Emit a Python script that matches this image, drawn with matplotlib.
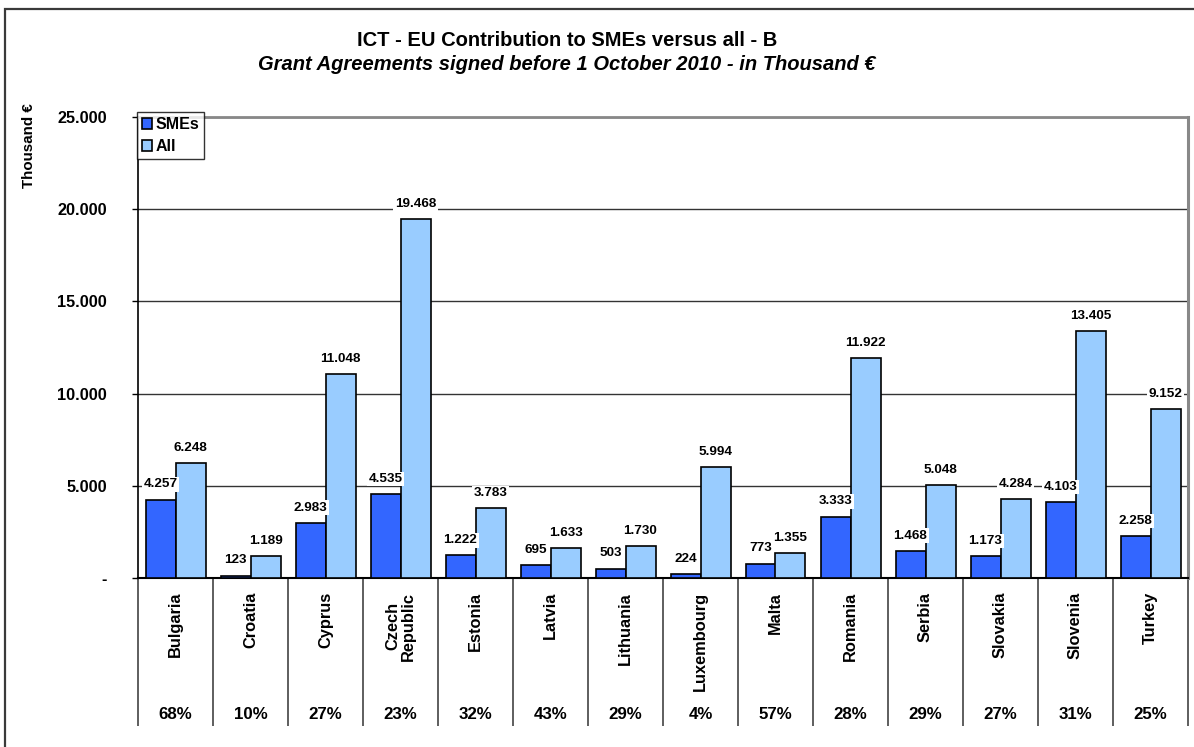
import matplotlib.pyplot as plt
from matplotlib.patches import Rectangle
from matplotlib.ticker import FuncFormatter, FixedLocator
import matplotlib.transforms as mtransforms

plt.rcParams['font.family'] = ['Liberation Sans', 'DejaVu Sans']
plt.rcParams['font.weight'] = 'bold'

countries = ["Bulgaria", "Croatia", "Cyprus", "Czech\nRepublic", "Estonia", "Latvia",
             "Lithuania", "Luxembourg", "Malta", "Romania", "Serbia", "Slovakia",
             "Slovenia", "Turkey"]
smes = [4257, 123, 2983, 4535, 1222, 695, 503, 224, 773, 3333, 1468, 1173, 4103, 2258]
all_ = [6248, 1189, 11048, 19468, 3783, 1633, 1730, 5994, 1355, 11922, 5048, 4284, 13405, 9152]


def fmt_k(v, pos=None):
    if v == 0:
        return "-"
    return f"{int(round(v)):,}".replace(",", ".")


fig = plt.figure(figsize=(11.94, 7.47), dpi=100)
ax = fig.add_axes([138 / 1194, 1 - 578 / 747, 1050 / 1194, 461 / 747])

# outer chart frame
fig.patches.append(Rectangle((5 / 1194, -0.1), 1.2, 1.1 - 9 / 747, transform=fig.transFigure,
                             fill=False, edgecolor='#3a3a3a', lw=1.6))

x = list(range(len(countries)))
w = 0.4
b1 = ax.bar([i - w / 2 for i in x], smes, w, color='#3366ff', edgecolor='black', lw=1.2,
            label='SMEs', zorder=3)
b2 = ax.bar([i + w / 2 for i in x], all_, w, color='#99ccff', edgecolor='black', lw=1.2,
            label='All', zorder=3)

for bars, vals in ((b1, smes), (b2, all_)):
    for r, v in zip(bars, vals):
        ax.annotate(fmt_k(v), (r.get_x() + r.get_width() / 2, v), xytext=(0, 11),
                    textcoords='offset points', ha='center', va='center', fontsize=9.7,
                    fontweight='bold', zorder=4,
                    bbox=dict(boxstyle='square,pad=0.1', fc='white', ec='none'))

ax.set_xlim(-0.5, len(countries) - 0.5)
ax.set_ylim(0, 25000)
ax.set_yticks(range(0, 25001, 5000))
ax.yaxis.set_major_formatter(FuncFormatter(fmt_k))
ax.grid(axis='y', color='#333333', lw=1.0, zorder=0)
ax.tick_params(axis='y', length=4.5, width=1, pad=18, labelsize=11.7, color='black')
for lab in ax.get_yticklabels():
    lab.set_fontweight('bold')

# category separators below the axis
ax.set_xticks([])
ax.xaxis.set_minor_locator(FixedLocator([i - 0.5 for i in range(len(countries) + 1)]))
ax.tick_params(axis='x', which='minor', length=106.5, width=1.1, color='#333333')
ax.tick_params(axis='x', which='major', length=0)

ax.spines['left'].set_color('black')
ax.spines['left'].set_linewidth(1.2)
ax.spines['bottom'].set_color('black')
ax.spines['bottom'].set_linewidth(1.5)
ax.spines['top'].set_color('#888888')
ax.spines['top'].set_linewidth(2)
ax.spines['right'].set_color('#888888')
ax.spines['right'].set_linewidth(2.2)

trans = mtransforms.blended_transform_factory(ax.transData, ax.transAxes)
for i, (name, s, a) in enumerate(zip(countries, smes, all_)):
    ax.text(i, -0.03, name, transform=trans, rotation=90, ha='center', va='top',
            multialignment='center', fontsize=11.8, fontweight='bold', linespacing=1.0)
    ax.text(i, -0.297, f"{round(100 * s / a)}%", transform=trans, ha='center', va='center',
            fontsize=12.2, fontweight='bold')

leg = ax.legend(loc='upper left', bbox_to_anchor=(137 / 1194, 1 - 112 / 747),
                bbox_transform=fig.transFigure, frameon=True, fancybox=False,
                edgecolor='black', fontsize=11.5, handlelength=0.65, handleheight=0.65,
                handletextpad=0.2, borderpad=0.3, labelspacing=0.45, borderaxespad=0)
leg.get_frame().set_linewidth(1.0)
for t in leg.get_texts():
    t.set_fontweight('bold')

fig.text(567 / 1194, 1 - 41 / 747, "ICT - EU Contribution to SMEs versus all - B",
         ha='center', va='center', fontsize=14.5, fontweight='bold')
fig.text(567 / 1194, 1 - 64 / 747, "Grant Agreements signed before 1 October 2010 - in Thousand €",
         ha='center', va='center', fontsize=14.5, fontweight='bold', style='italic')
fig.text(29 / 1194, 1 - 146 / 747, "Thousand €", rotation=90, ha='center', va='center',
         fontsize=10.9, fontweight='bold')

fig.savefig("out.png", dpi=100)
